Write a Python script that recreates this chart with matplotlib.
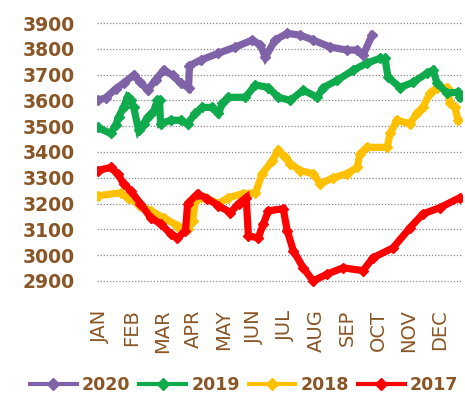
import matplotlib
matplotlib.use("Agg")
import matplotlib.pyplot as plt
from matplotlib.lines import Line2D

months = ["JAN", "FEB", "MAR", "APR", "MAY", "JUN", "JUL", "AUG", "SEP", "OCT", "NOV", "DEC"]
yticks = [2900, 3000, 3100, 3200, 3300, 3400, 3500, 3600, 3700, 3800, 3900]

# x positions in month units (0 = JAN)
x2020 = [-0.10, 0.16, 0.49, 0.74, 1.07, 1.29, 1.52, 1.78, 2.04, 2.33, 2.59, 2.85, 2.88, 3.24, 3.82,
         4.37, 4.92, 5.18, 5.34, 5.66, 6.05, 6.47, 6.89, 7.44, 7.99, 8.32, 8.51, 8.80]
y2020 = [3600, 3610, 3645, 3667, 3698, 3670, 3640, 3680, 3717, 3698, 3667, 3650, 3735, 3756, 3783,
         3807, 3834, 3815, 3768, 3834, 3860, 3853, 3834, 3807, 3795, 3795, 3775, 3853]

x2019 = [-0.10, 0.32, 0.49, 0.58, 0.74, 0.87, 0.97, 1.07, 1.23, 1.39, 1.52, 1.72, 1.84, 1.91, 1.94,
         2.27, 2.59, 2.82, 3.07, 3.30, 3.62, 3.82, 3.95, 4.14, 4.69, 5.02, 5.44, 5.76, 6.15, 6.57,
         7.02, 7.22, 7.67, 8.19, 8.64, 9.06, 9.22, 9.32, 9.71, 10.13, 10.58, 10.78, 10.91, 11.23,
         11.59, 11.65]
y2019 = [3495, 3472, 3505, 3535, 3573, 3612, 3600, 3573, 3484, 3510, 3535, 3560, 3600, 3600, 3510,
         3523, 3523, 3510, 3550, 3573, 3573, 3550, 3588, 3612, 3612, 3660, 3650, 3612, 3600, 3640,
         3612, 3650, 3678, 3717, 3745, 3763, 3763, 3690, 3650, 3670, 3705, 3717, 3667, 3628,
         3632, 3612]

x2018 = [-0.10, 0.65, 0.87, 1.29, 1.62, 2.04, 2.49, 2.69, 2.82, 2.98, 3.07, 3.40, 3.82, 4.14, 4.60,
         5.02, 5.24, 5.57, 5.76, 5.99, 6.15, 6.47, 6.89, 7.12, 7.54, 7.99, 8.32, 8.41, 8.64, 9.29,
         9.39, 9.61, 10.03, 10.26, 10.45, 10.68, 10.91, 11.23, 11.33, 11.49, 11.59]
y2018 = [3230, 3242, 3223, 3192, 3172, 3145, 3115, 3102, 3102, 3133, 3210, 3223, 3200, 3223, 3238,
         3242, 3316, 3367, 3406, 3380, 3355, 3328, 3316, 3277, 3300, 3316, 3340, 3394, 3418, 3418,
         3472, 3523, 3510, 3550, 3573, 3628, 3650, 3650, 3588, 3573, 3523]

x2017 = [-0.10, 0.32, 0.55, 0.74, 0.97, 1.29, 1.62, 1.94, 2.27, 2.49, 2.75, 2.82, 3.14, 3.46, 3.82,
         4.21, 4.47, 4.72, 4.79, 5.11, 5.28, 5.44, 5.92, 6.05, 6.25, 6.57, 6.89, 7.35, 7.86, 8.51,
         8.83, 9.48, 10.03, 10.45, 11.00, 11.65]
y2017 = [3328, 3340, 3316, 3277, 3250, 3200, 3145, 3122, 3083, 3067, 3095, 3200, 3238, 3219, 3192,
         3165, 3200, 3223, 3075, 3067, 3122, 3172, 3180, 3095, 3017, 2951, 2900, 2927, 2951, 2940,
         2990, 3028, 3106, 3160, 3184, 3223]

labels = ["2020", "2019", "2018", "2017"]
colors = {"2020": "#7F62A8", "2019": "#0FAA4C", "2018": "#FFC000", "2017": "#FF0000"}
series = {"2020": (x2020, y2020), "2019": (x2019, y2019), "2018": (x2018, y2018), "2017": (x2017, y2017)}

text_color = "#8A5626"

fig = plt.figure(figsize=(4.65, 4.03), dpi=100)
ax = fig.add_axes([0.2086, 0.2836, 0.785, 0.6625])

for name in ["2018", "2017", "2019", "2020"]:
    xs, ys = series[name]
    ax.plot(xs, ys, color=colors[name], lw=5.2, marker="D", ms=5.5,
            solid_joinstyle="miter", zorder=3)

ax.set_xlim(-0.12, 11.72)
ax.set_ylim(2870, 3905)
ax.set_yticks(yticks)
ax.set_yticklabels([str(v) for v in yticks])
ax.set_xticks(range(12))
ax.set_xticklabels(months, rotation=90, va="top", ha="center")
ax.tick_params(axis="y", length=0, pad=16, labelsize=13.5, labelcolor=text_color)
ax.tick_params(axis="x", length=0, pad=15, labelsize=14, labelcolor=text_color)
for lab in ax.get_yticklabels():
    lab.set_fontweight("bold")
ax.grid(axis="y", linestyle=(0, (1, 1.5)), color="#888888", lw=0.9, zorder=0)
for s in ax.spines.values():
    s.set_visible(False)

handles = [Line2D([0], [0], color=colors[n], lw=3, marker="D", ms=6) for n in labels]
leg = fig.legend(handles, labels, loc="center", bbox_to_anchor=(0.525, 0.045), ncol=4,
                 frameon=False, handlelength=2.7, handletextpad=0.3, columnspacing=0.5,
                 prop={"size": 12.5, "weight": "bold"})
for t in leg.get_texts():
    t.set_color(text_color)

fig.savefig("out.png", dpi=100)
